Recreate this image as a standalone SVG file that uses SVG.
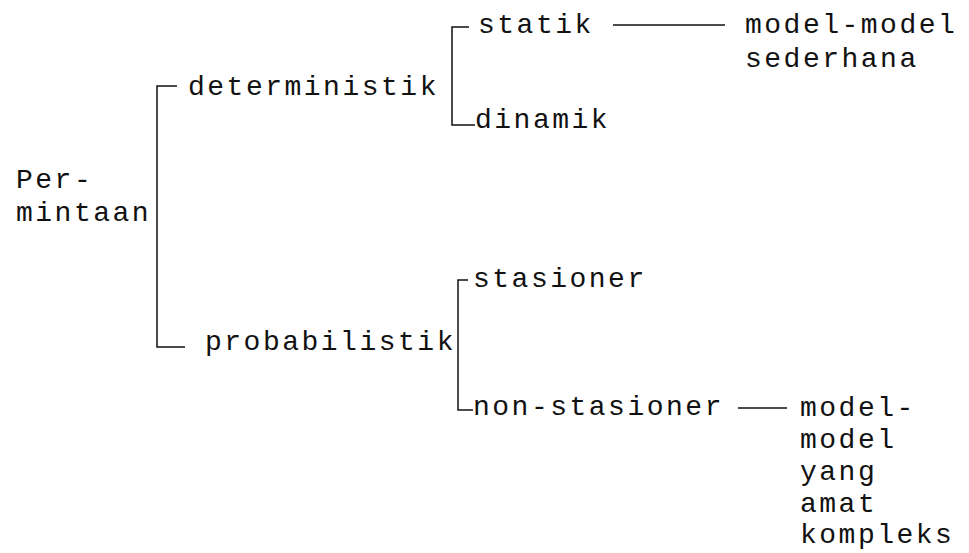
<svg xmlns="http://www.w3.org/2000/svg" width="969" height="553" viewBox="0 0 969 553">
<style>
text{font-family:"Liberation Mono","Courier New",monospace;font-size:28px;letter-spacing:2.5px;fill:#111}
.c{stroke:#111;stroke-width:1.5;fill:none}
</style>
<rect width="969" height="553" fill="#fff"/>
<g id="connectors">
<path class="c" d="M177,86 H157 V347 H185"/>
<path class="c" d="M469,27 H452 V125 H475"/>
<path class="c" d="M468,280 H458 V410 H473"/>
<path class="c" d="M613,25 H725"/>
<path class="c" d="M738,408 H787"/>
</g>
<g id="permintaan"><text x="16" y="188">Per-</text><text x="16" y="221">mintaan</text></g>
<g id="deterministik"><text x="188" y="95">deterministik</text></g>
<g id="probabilistik"><text x="205" y="350">probabilistik</text></g>
<g id="statik"><text x="478" y="33">statik</text></g>
<g id="dinamik"><text x="475" y="128">dinamik</text></g>
<g id="model-sederhana"><text x="745" y="33">model-model</text><text x="745" y="67">sederhana</text></g>
<g id="stasioner"><text x="473" y="287">stasioner</text></g>
<g id="non-stasioner"><text x="473" y="415">non-stasioner</text></g>
<g id="model-kompleks"><text x="800" y="416">model-</text><text x="800" y="448">model</text><text x="800" y="480">yang</text><text x="800" y="512">amat</text><text x="800" y="543">kompleks</text></g>
</svg>
